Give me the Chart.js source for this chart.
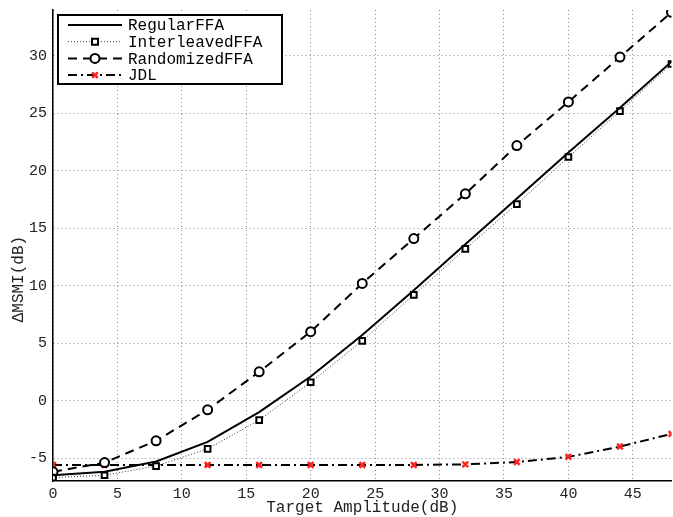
<!DOCTYPE html>
<html>
<head>
<meta charset="utf-8">
<script src="https://cdn.jsdelivr.net/npm/chart.js@4/dist/chart.umd.min.js"></script>
<style>
  html, body { margin: 0; background: #fff; overflow: hidden; }
  canvas { display: block; }
</style>
</head>
<body>
<canvas id="lineChart" width="678" height="517"></canvas>
<script>
// target amplitude (dB)
var amplitudes = [0, 4, 8, 12, 16, 20, 24, 28, 32, 36, 40, 44, 48];

// delta MSMI (dB) per method
var regularFFA     = [-6.5, -6.2, -5.3, -3.6, -1.0, 2.1, 5.7, 9.6, 13.6, 17.6, 21.6, 25.5, 29.5];
var interleavedFFA = [-6.7, -6.5, -5.7, -4.2, -1.7, 1.6, 5.2, 9.2, 13.2, 17.1, 21.2, 25.2, 29.3];
var randomizedFFA  = [-6.2, -5.4, -3.5, -0.8, 2.5, 6.0, 10.2, 14.1, 18.0, 22.2, 26.0, 29.9, 33.8];
var jdl            = [-5.6, -5.6, -5.6, -5.6, -5.6, -5.6, -5.6, -5.6, -5.55, -5.35, -4.9, -4.0, -2.9];

var seriesNames = ["RegularFFA", "InterleavedFFA", "RandomizedFFA", "JDL"];

function pts(ys) {
  return amplitudes.map(function (x, i) { return { x: x, y: ys[i] }; });
}

var monoFont = "'Liberation Mono', 'DejaVu Sans Mono', monospace";

// legend drawn inside the plot, top-left, like the matlab box
var boxLegend = {
  id: 'boxLegend',
  afterDatasetsDraw: function (chart) {
    var ctx = chart.ctx;
    var area = chart.chartArea;
    var x0 = area.left + 5, y0 = area.top + 5, w = 224, h = 69;
    ctx.save();
    ctx.fillStyle = '#fff';
    ctx.fillRect(x0, y0, w, h);
    ctx.lineWidth = 2;
    ctx.strokeStyle = '#000';
    ctx.setLineDash([]);
    ctx.strokeRect(x0, y0, w, h);
    ctx.font = '16px ' + monoFont;
    ctx.textBaseline = 'middle';
    chart.data.datasets.forEach(function (ds, i) {
      var y = y0 + 10 + i * 16.7;
      var lx1 = x0 + 10, lx2 = x0 + 64, mx = (lx1 + lx2) / 2;
      ctx.beginPath();
      ctx.setLineDash(ds.borderDash || []);
      ctx.lineWidth = ds.borderWidth;
      ctx.strokeStyle = ds.borderColor;
      ctx.moveTo(lx1, y);
      ctx.lineTo(lx2, y);
      ctx.stroke();
      ctx.setLineDash([]);
      if (ds.pointRadius > 0) {
        var r = ds.pointRadius;
        ctx.lineWidth = ds.pointBorderWidth;
        ctx.strokeStyle = ds.pointBorderColor;
        ctx.fillStyle = '#fff';
        ctx.beginPath();
        if (ds.pointStyle === 'rect') {
          ctx.rect(mx - r * 0.75, y - r * 0.75, r * 1.5, r * 1.5);
          ctx.fill(); ctx.stroke();
        } else if (ds.pointStyle === 'circle') {
          ctx.arc(mx, y, r, 0, Math.PI * 2);
          ctx.fill(); ctx.stroke();
        } else {
          ctx.moveTo(mx - r * 0.7, y - r * 0.7); ctx.lineTo(mx + r * 0.7, y + r * 0.7);
          ctx.moveTo(mx + r * 0.7, y - r * 0.7); ctx.lineTo(mx - r * 0.7, y + r * 0.7);
          ctx.stroke();
        }
      }
      ctx.fillStyle = '#000';
      ctx.fillText(ds.label, x0 + 70, y + 1);
    });
    ctx.restore();
  }
};

var ctxL = document.getElementById("lineChart").getContext('2d');
var myLineChart = new Chart(ctxL, {
  type: 'line',
  data: {
    datasets: [{
      label: seriesNames[0],
      data: pts(regularFFA),
      borderColor: '#000',
      borderWidth: 2,
      pointRadius: 0,
      pointBorderWidth: 0,
      pointBorderColor: '#000'
    }, {
      label: seriesNames[1],
      data: pts(interleavedFFA),
      borderColor: '#333',
      borderWidth: 1,
      borderDash: [1, 2],
      pointStyle: 'rect',
      pointRadius: 4,
      pointBorderWidth: 2,
      pointBorderColor: '#000',
      pointBackgroundColor: '#fff'
    }, {
      label: seriesNames[2],
      data: pts(randomizedFFA),
      borderColor: '#000',
      borderWidth: 2,
      borderDash: [9, 6],
      pointStyle: 'circle',
      pointRadius: 4.5,
      pointBorderWidth: 2,
      pointBorderColor: '#000',
      pointBackgroundColor: '#fff'
    }, {
      label: seriesNames[3],
      data: pts(jdl),
      borderColor: '#000',
      borderWidth: 2,
      borderDash: [9, 4, 2, 4],
      pointStyle: 'crossRot',
      pointRadius: 4,
      pointBorderWidth: 2.5,
      pointBorderColor: '#f22'
    }]
  },
  options: {
    responsive: false,
    animation: false,
    layout: { padding: { top: 10, right: 0, left: 0, bottom: 0 } },
    plugins: {
      legend: { display: false },
      tooltip: { enabled: false }
    },
    scales: {
      x: {
        type: 'linear',
        min: 0,
        max: 48,
        ticks: {
          stepSize: 5,
          includeBounds: false,
          color: '#222',
          padding: 4,
          maxRotation: 0,
          font: { family: monoFont, size: 15 }
        },
        grid: { color: '#888', drawTicks: false },
        border: { display: true, color: '#000', width: 1.5, dash: [1, 3] },
        title: {
          display: true,
          text: 'Target Amplitude(dB)',
          color: '#222',
          padding: { top: 0, bottom: 0 },
          font: { family: monoFont, size: 16 }
        },
        afterFit: function (scale) {
          scale.height = 36;
          scale.paddingRight = 0;
          scale.paddingLeft = 0;
        }
      },
      y: {
        min: -7,
        max: 34,
        ticks: {
          stepSize: 5,
          includeBounds: false,
          color: '#222',
          padding: 6,
          font: { family: monoFont, size: 15 }
        },
        grid: { color: '#888', drawTicks: false },
        border: { display: true, color: '#000', width: 1.5, dash: [1, 3] },
        title: {
          display: true,
          text: 'ΔMSMI(dB)       ',
          color: '#222',
          padding: { top: 9, bottom: 0 },
          font: { family: monoFont, size: 16 }
        },
        afterFit: function (scale) {
          scale.width = 53;
          scale.paddingTop = 0;
          scale.paddingBottom = 0;
        }
      }
    }
  },
  plugins: [boxLegend]
});
</script>
</body>
</html>
